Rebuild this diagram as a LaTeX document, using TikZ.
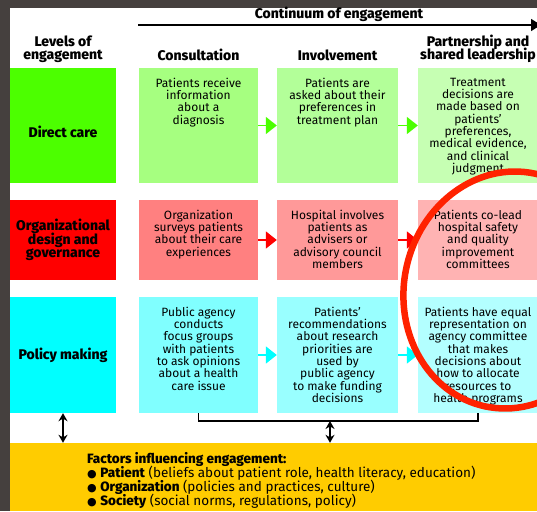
\documentclass[tikz,border=0pt]{standalone}
\usepackage{fontspec}
\setmainfont{Fira Sans}[BoldFont={* ExtraBold}]
\newfontfamily\symfont{DejaVu Sans}
\usetikzlibrary{arrows.meta}

\definecolor{framec}{HTML}{45403E}
\definecolor{gA}{HTML}{4CFF00}
\definecolor{gB}{HTML}{A6FF80}
\definecolor{gC}{HTML}{B3FF99}
\definecolor{gD}{HTML}{C6FFB3}
\definecolor{rA}{HTML}{FF0000}
\definecolor{rB}{HTML}{FF8080}
\definecolor{rC}{HTML}{FF9999}
\definecolor{rD}{HTML}{FFB3B3}
\definecolor{cA}{HTML}{00FFFF}
\definecolor{cB}{HTML}{80FFFF}
\definecolor{cC}{HTML}{99FFFF}
\definecolor{cD}{HTML}{B3FFFF}
\definecolor{factc}{HTML}{FFCC00}
\definecolor{ringc}{HTML}{FF2200}

% fixed line pitch, whatever the glyph heights
\newcommand{\fixedpitch}{\lineskiplimit -20pt\relax}

\tikzset{
  cellbox/.style={draw=none, inner sep=0pt},
  celltext/.style={font=\fontsize{12}{12.3}\selectfont\fixedpitch, align=center, inner sep=0pt, anchor=north},
  lvltext/.style={font=\fontsize{14}{13.4}\selectfont\bfseries\fixedpitch, align=center, inner sep=0pt},
  headtext/.style={font=\fontsize{14}{13.4}\selectfont\bfseries\fixedpitch, align=center, inner sep=0pt},
  flow/.style={line width=1.8pt, -{Triangle[length=11pt,width=17pt]}},
  twoway/.style={line width=1.3pt, {Stealth[length=8pt,width=9pt]}-{Stealth[length=8pt,width=9pt]}},
}
\newcommand{\bulletmark}{{\symfont\fontsize{11}{11}\selectfont ●}}

\begin{document}
\begin{tikzpicture}[x=1pt,y=-1pt]
\useasboundingbox (0,0) rectangle (537,511);
\clip (0,0) rectangle (537,511);

% dark frame and white sheet
\fill[framec] (0,0) rectangle (537,511);
\fill[white] (10,8) rectangle (537,511);

% factors panel
\node[cellbox, fill=factc, minimum width=527pt, minimum height=68pt] (fac) at (273.5,477) {};

% header
\node[headtext] (cont) at (339,14) {Continuum of engagement};
\coordinate (axs) at (138,25);
\coordinate (axe) at (541,25);
\draw[line width=1.4pt, -{Triangle[length=10pt,width=12pt]}] (axs) -- (axe);

\node[headtext] (hlev) at (63,49) {Levels of\\engagement};
\node[headtext] (hcon) at (198.5,55) {Consultation};
\node[headtext] (hinv) at (337.5,55) {Involvement};
\node[headtext] (hpar) at (478,49) {Partnership and\\shared leadership};

% row 1: direct care
\node[cellbox, fill=gA, minimum width=106pt, minimum height=115pt] (d10) at (63,125.5) {};
\node[cellbox, fill=gB, minimum width=119pt, minimum height=115pt] (d11) at (198.5,125.5) {};
\node[cellbox, fill=gC, minimum width=121pt, minimum height=115pt] (d12) at (337.5,125.5) {};
\node[cellbox, fill=gD, minimum width=120pt, minimum height=115pt] (d13) at (478,125.5) {};

% row 2: organizational design and governance
\node[cellbox, fill=rA, minimum width=106pt, minimum height=80pt] (d20) at (63,240) {};
\node[cellbox, fill=rB, minimum width=119pt, minimum height=80pt] (d21) at (198.5,240) {};
\node[cellbox, fill=rC, minimum width=121pt, minimum height=80pt] (d22) at (337.5,240) {};
\node[cellbox, fill=rD, minimum width=120pt, minimum height=80pt] (d23) at (478,240) {};

% row 3: policy making
\node[cellbox, fill=cA, minimum width=106pt, minimum height=116pt] (d30) at (63,355) {};
\node[cellbox, fill=cB, minimum width=119pt, minimum height=116pt] (d31) at (198.5,355) {};
\node[cellbox, fill=cC, minimum width=121pt, minimum height=116pt] (d32) at (337.5,355) {};
\node[cellbox, fill=cD, minimum width=120pt, minimum height=116pt] (d33) at (478,355) {};

% level labels
\node[lvltext] (l1) at (63,132) {Direct care};
\node[lvltext] (l2) at (63,240) {Organizational\\design and\\governance};
\node[lvltext] (l3) at (63,355) {Policy making};

% cell texts
\node[celltext] (t11) at ([yshift=-10pt]d11.north) {Patients receive\\information\\about a\\diagnosis};
\node[celltext] (t12) at ([yshift=-10pt]d12.north) {Patients are\\asked about their\\preferences in\\treatment plan};
\node[celltext] (t13) at ([yshift=-10pt]d13.north) {Treatment\\decisions are\\made based on\\patients’\\preferences,\\medical evidence,\\and clinical\\judgment};

\node[celltext] (t21) at ([yshift=-10pt]d21.north) {Organization\\surveys patients\\about their care\\experiences};
\node[celltext] (t22) at ([yshift=-10pt]d22.north) {Hospital involves\\patients as\\advisers or\\advisory council\\members};
\node[celltext] (t23) at ([yshift=-10pt]d23.north) {Patients co-lead\\hospital safety\\and quality\\improvement\\committees};

\node[celltext] (t31) at ([yshift=-10pt]d31.north) {Public agency\\conducts\\focus groups\\with patients\\to ask opinions\\about a health\\care issue};
\node[celltext] (t32) at ([yshift=-10pt]d32.north) {Patients’\\recommendations\\about research\\priorities are\\used by\\public agency\\to make funding\\decisions};
\node[celltext] (t33) at ([yshift=-10pt]d33.north) {Patients have equal\\representation on\\agency committee\\that makes\\decisions about\\how to allocate\\resources to\\health programs};

% progression arrows
\draw[flow, gA] (d11) -- (d12);
\draw[flow, gA] (d12) -- (d13);
\draw[flow, rA] (d21) -- (d22);
\draw[flow, rA] (d22) -- (d23);
\draw[flow, cA] (d31) -- (d32);
\draw[flow, cA] (d32) -- (d33);

% links to the factors panel
\coordinate (brk) at (330,421);
\draw[line width=1.2pt] (d31.south) |- (brk) -| (d33.south);
\draw[twoway] (brk) -- (brk |- fac.north);
\draw[twoway] (d30.south) -- (d30.south |- fac.north);

% factors text
\node[anchor=north west, align=left, inner sep=0pt, font=\fontsize{13.5}{14}\selectfont\fixedpitch] (ftx) at (87,452)
  {\textbf{Factors influencing engagement:}\\
   \bulletmark\ \textbf{Patient} (beliefs about patient role, health literacy, education)\\
   \bulletmark\ \textbf{Organization} (policies and practices, culture)\\
   \bulletmark\ \textbf{Society} (social norms, regulations, policy)};

% highlight ring
\draw[ringc, line width=6.5pt, rotate around={-12:(510,290)}] (510,290) ellipse [x radius=106pt, y radius=119pt];
\end{tikzpicture}
\end{document}
